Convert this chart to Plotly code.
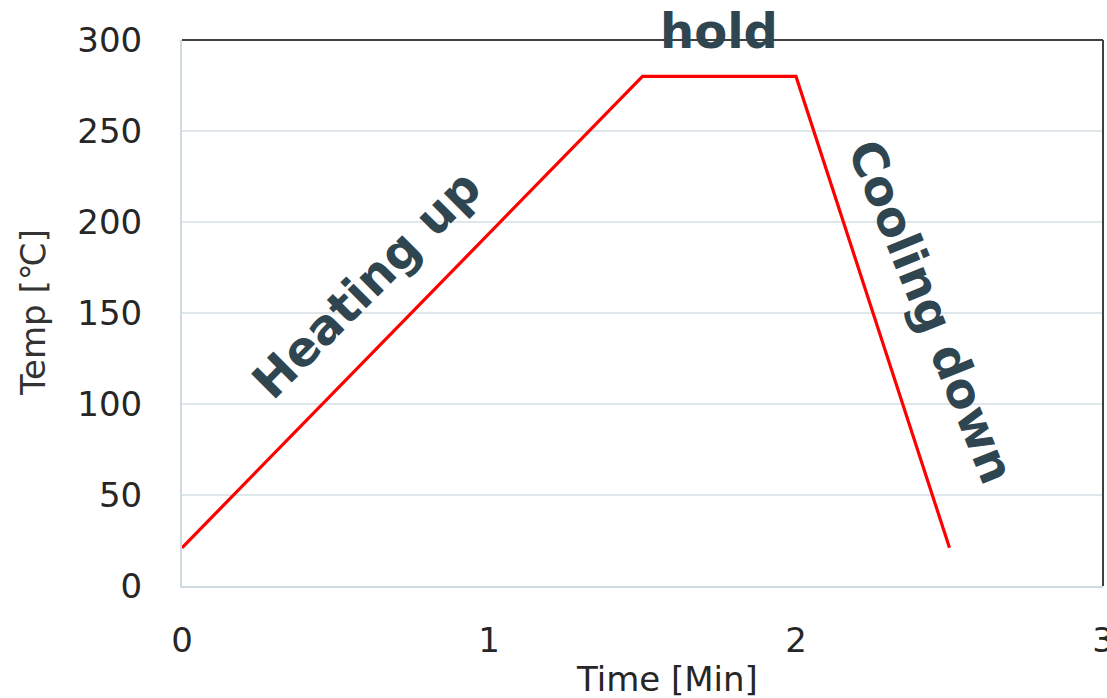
import plotly.graph_objects as go

# Data
time_min = [0, 1.5, 2.0, 2.5]
temp_c = [21, 280, 280, 21]
x_ticks = [0, 1, 2, 3]
y_ticks = [0, 50, 100, 150, 200, 250, 300]

FONT = "DejaVu Sans"
TXT = "#2f4550"

fig = go.Figure()
fig.add_trace(go.Scatter(x=time_min, y=temp_c, mode="lines",
                         line=dict(color="#ff0000", width=3.2), showlegend=False,
                         hoverinfo="skip", cliponaxis=False))

fig.update_layout(
    width=1107, height=698,
    margin=dict(l=182, r=4, t=40, b=112, autoexpand=False),
    paper_bgcolor="white", plot_bgcolor="white",
    font=dict(family=FONT, color="#262626"),
    xaxis=dict(range=[0, 3], tickvals=x_ticks, showgrid=False, zeroline=False,
               showline=True, linecolor="#cfdae1", linewidth=2, automargin=False,
               ticklabeloverflow="allow",
               tickfont=dict(size=34, color="#262626"), ticklabelstandoff=23),
    yaxis=dict(range=[0, 300], tickvals=y_ticks, showgrid=True, gridcolor="#dfe7eb",
               gridwidth=1.5, zeroline=False, automargin=False,
               showline=True, linecolor="#cfdae1", linewidth=2,
               tickfont=dict(size=34, color="#262626"), ticklabelstandoff=31),
)

# top and right borders (dark)
fig.add_shape(type="line", xref="paper", yref="paper", x0=0, x1=1, y0=1, y1=1,
              line=dict(color="#404040", width=2))
fig.add_shape(type="line", xref="paper", yref="paper", x0=1, x1=1, y0=0, y1=1,
              line=dict(color="#404040", width=2))

# axis titles
fig.add_annotation(text="Time [Min]", xref="paper", yref="paper", x=(667 - 182) / 921,
                   y=-(679 - 586) / 546, showarrow=False, yanchor="middle",
                   font=dict(size=34, color="#262626", family=FONT))
fig.add_annotation(text="Temp [℃]", xref="paper", yref="paper", x=-(182 - 33) / 921,
                   y=0.5, showarrow=False, textangle=-90, xanchor="center",
                   font=dict(size=34, color="#333333", family=FONT))

# labels
fig.add_annotation(text="<b>hold</b>", x=1.75, xref="x", yref="paper",
                   y=1 + (40 - 31) / 546, showarrow=False, yanchor="middle",
                   font=dict(size=48, color=TXT, family=FONT))
fig.add_annotation(text="<b>Heating up</b>", x=0.6, y=166, showarrow=False,
                   textangle=-45, font=dict(size=48, color=TXT, family=FONT))
fig.add_annotation(text="<b>Cooling down</b>", x=2.44, y=151, showarrow=False,
                   textangle=68, font=dict(size=48, color=TXT, family=FONT))

fig.write_html("out.html", config={"displayModeBar": False},
               post_script="document.body.style.margin='0';document.body.style.overflow='hidden';")
